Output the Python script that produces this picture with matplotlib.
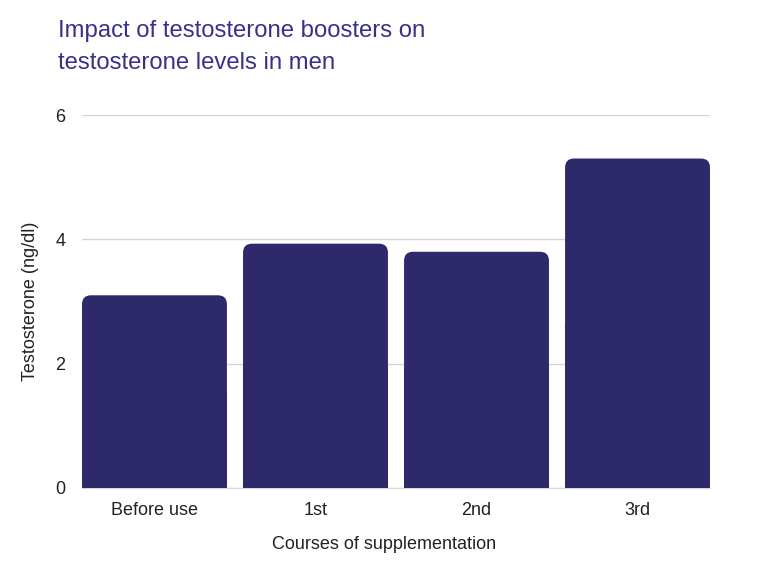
import matplotlib
matplotlib.use("Agg")
import matplotlib.pyplot as plt
from matplotlib.patches import FancyBboxPatch, Rectangle

# data
courses = ["Before use", "1st", "2nd", "3rd"]
testosterone = [3.1, 3.93, 3.8, 5.3]
y_ticks = [0, 2, 4, 6]

bar_color = "#2e296b"
title_color = "#37318a"
text_color = "#222222"

plt.rcParams["font.family"] = ["Liberation Sans", "DejaVu Sans"]

fig = plt.figure(figsize=(7.68, 5.76), dpi=100)
ax = fig.add_axes([82 / 768, 1 - 488 / 576, 628 / 768, (488 - 115) / 576])

width = 0.9
ax.set_xlim(-width / 2, len(courses) - 1 + width / 2)
ax.set_ylim(0, 6)

# rounded tops: radius in pixels converted to data units
px_x = 628 / (len(courses) - 1 + width)
px_y = 373 / 6
r = 9 / px_x
aspect = px_x / px_y
for i, h in enumerate(testosterone):
    x0 = i - width / 2
    ax.add_patch(FancyBboxPatch((x0, 0), width, h,
                                boxstyle=f"round,pad=0,rounding_size={r}",
                                mutation_aspect=aspect, fc=bar_color, ec="none", zorder=3))
    # square off the bottom corners
    ax.add_patch(Rectangle((x0, 0), width, h / 2, fc=bar_color, ec="none", zorder=3))

ax.set_xticks(range(len(courses)))
ax.set_xticklabels(courses)
ax.set_yticks(y_ticks)
ax.tick_params(length=0, labelsize=13, colors=text_color)
ax.tick_params(axis="x", pad=10)
ax.tick_params(axis="y", pad=12)
ax.grid(axis="y", color="#d6d6d6", linewidth=1, zorder=0)
for s in ["top", "right", "left"]:
    ax.spines[s].set_visible(False)
ax.spines["bottom"].set_color("#d6d6d6")

ax.set_xlabel("Courses of supplementation", fontsize=13, color=text_color)
ax.xaxis.set_label_coords((384 - 82) / 628, -48 / 373)
ax.set_ylabel("Testosterone (ng/dl)", fontsize=13, color=text_color, labelpad=12)

fig.text(58 / 768, 1 - 47 / 576, "Impact of testosterone boosters on\ntestosterone levels in men",
         fontsize=17.2, color=title_color, va="center", ha="left", linespacing=1.55)
fig.savefig("out.png", dpi=100)
